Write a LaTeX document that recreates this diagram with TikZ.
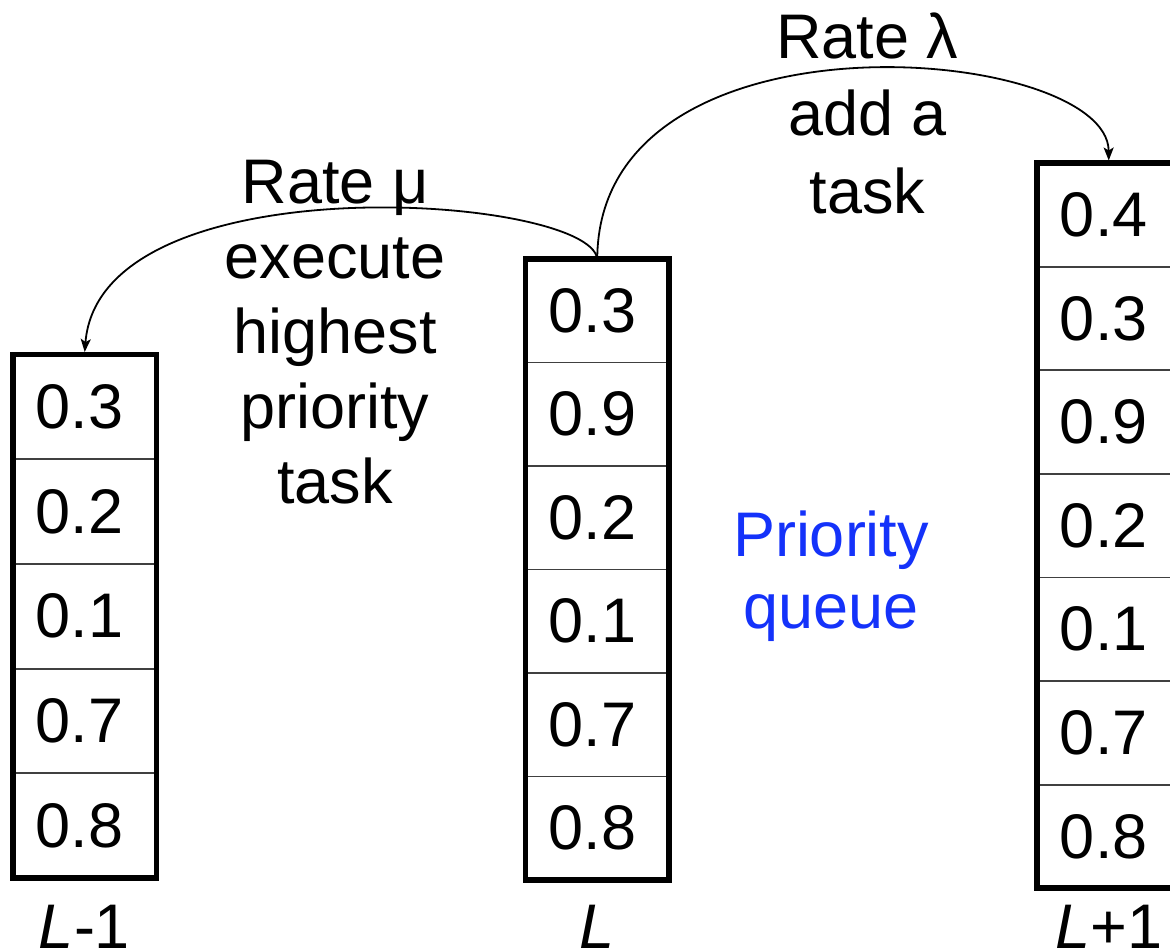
\documentclass[tikz,border=0pt]{standalone}
\usepackage{fontspec}
\setmainfont{Liberation Sans}
\usetikzlibrary{arrows.meta}
\definecolor{pqblue}{RGB}{20,50,250}
\begin{document}
\begin{tikzpicture}[x=1pt,y=-1pt,
  cell/.style={draw=black!75, line width=1.8pt, minimum width=143.5pt,
    inner sep=0pt, outer sep=0pt, font=\fontsize{63}{75}\selectfont,
    execute at end node={\hspace{10pt}}},
  frame/.style={line width=5.5pt},
  flow/.style={line width=1.8pt, -{Stealth[length=13pt,width=10pt,inset=3pt]},
    shorten >=2.5pt},
  lbl/.style={font=\fontsize{63}{75}\selectfont, align=center, inner sep=0pt}
]
\useasboundingbox (0,0) rectangle (1170,952);

% queue of level L-1
\foreach \v [count=\i] in {0.3,0.2,0.1,0.7,0.8}
  \node[cell, minimum height=104.7pt] (a\i) at (84.5, {354.5+(\i-0.5)*104.7}) {\v};
% queue of level L
\foreach \v [count=\i] in {0.3,0.9,0.2,0.1,0.7,0.8}
  \node[cell, minimum height=103.5pt] (b\i) at (597.25, {259+(\i-0.5)*103.5}) {\v};
% queue of level L+1
\foreach \v [count=\i] in {0.4,0.3,0.9,0.2,0.1,0.7,0.8}
  \node[cell, minimum height=103.6pt] (c\i) at (1108.75, {163+(\i-0.5)*103.6}) {\v};

% heavy outlines of the three queues
\draw[frame] (a1.north west) rectangle (a5.south east);
\draw[frame] (b1.north west) rectangle (b6.south east);
\draw[frame] (c1.north west) rectangle (c7.south east);

% transitions
\draw[flow] (b1.north) .. controls +(-7,-64) and +(15.5,-194.5) .. (a1.north);
\draw[flow] (b1.north) .. controls +(1,-259) and +(-0.75,-118) .. (c1.north);

% rate labels (base anchor sits on the last line)
\node[lbl, anchor=base] (mu) at (335,503.3)
  {Rate μ\\execute\\highest\\priority\\task};
\node[lbl, anchor=base, font=\fontsize{63}{77.5}\selectfont] (lam) at (867.5,213.3)
  {Rate λ\\add a\\task};
\node[lbl, anchor=base, text=pqblue, font=\fontsize{63}{72}\selectfont] (pq) at (831,628.3)
  {Priority\\queue};

% level names
\node[lbl, anchor=base] (la) at (84.5,948) {\textit{L}-1};
\node[lbl, anchor=base] (lb) at (597.25,948) {\textit{L}};
\node[lbl, anchor=base] (lc) at (1108.75,948) {\textit{L}+1};
\end{tikzpicture}
\end{document}
